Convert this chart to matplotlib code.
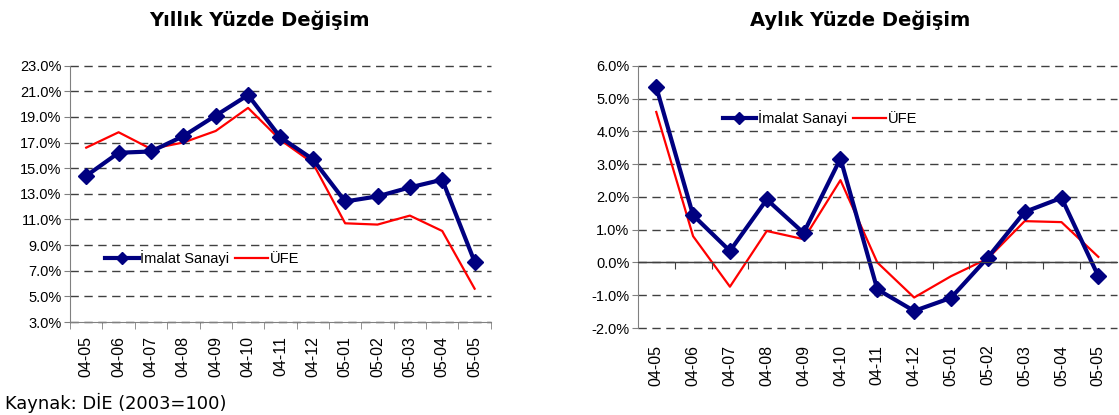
import numpy as np
import matplotlib
matplotlib.use('Agg')
import matplotlib.pyplot as plt
from matplotlib.ticker import FuncFormatter

plt.rcParams['font.family'] = ['Liberation Sans', 'DejaVu Sans']

months = ['04-05', '04-06', '04-07', '04-08', '04-09', '04-10', '04-11',
          '04-12', '05-01', '05-02', '05-03', '05-04', '05-05']

# yillik degisim (%)
imalat_yillik = [14.4, 16.2, 16.3, 17.5, 19.1, 20.7, 17.4, 15.7, 12.4, 12.8, 13.5, 14.1, 7.7]
ufe_yillik = [16.6, 17.8, 16.5, 17.0, 17.9, 19.7, 17.2, 15.4, 10.7, 10.6, 11.3, 10.1, 5.6]

# aylik degisim (%)
imalat_aylik = [5.35, 1.44, 0.35, 1.92, 0.90, 3.17, -0.82, -1.48, -1.08, 0.15, 1.54, 1.97, -0.42]
ufe_aylik = [4.59, 0.80, -0.74, 0.96, 0.71, 2.51, 0.00, -1.07, -0.42, 0.12, 1.26, 1.23, 0.17]

navy = '#000080'
red = '#ff0000'
pct = FuncFormatter(lambda v, p: '%.1f%%' % v)

fig = plt.figure(figsize=(11.19, 4.15), dpi=100)
ax1 = fig.add_axes([0.0626, 0.224, 0.376, 0.618])
ax2 = fig.add_axes([0.570, 0.2096, 0.428, 0.632])

x = np.arange(len(months))
bounds = np.arange(len(months) + 1) - 0.5


def draw(ax, imalat, ufe, ylim, step):
    ax.plot(x, ufe, color=red, lw=1.6, label='ÜFE', zorder=3)
    ax.plot(x, imalat, color=navy, lw=3, marker='D', ms=8.5, label='İmalat Sanayi', zorder=4)
    ax.set_xlim(-0.5, len(months) - 0.5)
    ax.set_ylim(*ylim)
    ax.set_yticks(np.arange(ylim[0], ylim[1] + step / 2, step))
    ax.yaxis.set_major_formatter(pct)
    ax.grid(axis='y', color='#404040', ls=(0, (6, 4)), lw=1)
    for g in ax.get_ygridlines():
        g.set_clip_on(False)
    ax.set_xticks(x)
    ax.set_xticklabels(months, rotation=90)
    ax.tick_params(axis='x', length=0, labelsize=11.5)
    ax.tick_params(axis='y', length=4, color='#808080', labelsize=10.5, pad=2)
    for s in ['top', 'right']:
        ax.spines[s].set_visible(False)
    ax.spines['left'].set_color('#808080')
    ax.set_axisbelow(True)
    h, l = ax.get_legend_handles_labels()
    return h[::-1], l[::-1]


legend_kw = dict(ncol=2, frameon=False, fontsize=10.5, loc='center left',
                 handlelength=2.3, handletextpad=0.1, columnspacing=0.4,
                 borderaxespad=0, borderpad=0, markerscale=0.7)

h, l = draw(ax1, imalat_yillik, ufe_yillik, (3, 23), 2)
ax1.spines['bottom'].set_color('#808080')
ax1.set_xticks(bounds, minor=True)
ax1.tick_params(axis='x', which='minor', length=5, color='#808080')
ax1.tick_params(axis='x', which='major', pad=10)
ax1.legend(h, l, bbox_to_anchor=(0.083, 0.25), **legend_kw)

h, l = draw(ax2, imalat_aylik, ufe_aylik, (-2, 6), 1)
ax2.spines['bottom'].set_visible(False)
ax2.tick_params(axis='x', which='major', pad=12)
ax2.axhline(0, color='#404040', lw=1, zorder=2)
# zero line carries the category separators
zero_ax = ax2.twiny()
zero_ax.set_xlim(ax2.get_xlim())
zero_ax.spines['bottom'].set_position(('data', 0))
zero_ax.spines['bottom'].set_color('#404040')
for s in ['top', 'right', 'left']:
    zero_ax.spines[s].set_visible(False)
zero_ax.xaxis.set_ticks_position('bottom')
zero_ax.set_xticks(bounds[1:-1])
zero_ax.set_xticklabels([])
zero_ax.tick_params(axis='x', length=5, color='#404040')
ax2.legend(h, l, bbox_to_anchor=(0.177, 0.80), **legend_kw)

fig.text(259 / 1119, 1 - 20 / 415, 'Yıllık Yüzde Değişim', ha='center', va='center',
         fontsize=14, fontweight='bold', family='DejaVu Sans')
fig.text(860 / 1119, 1 - 20 / 415, 'Aylık Yüzde Değişim', ha='center', va='center',
         fontsize=14, fontweight='bold', family='DejaVu Sans')
fig.text(5 / 1119, 1 - 403 / 415, 'Kaynak: DİE (2003=100)', ha='left', va='center',
         fontsize=12.9, family='DejaVu Sans')

fig.savefig('out.png', dpi=100)
